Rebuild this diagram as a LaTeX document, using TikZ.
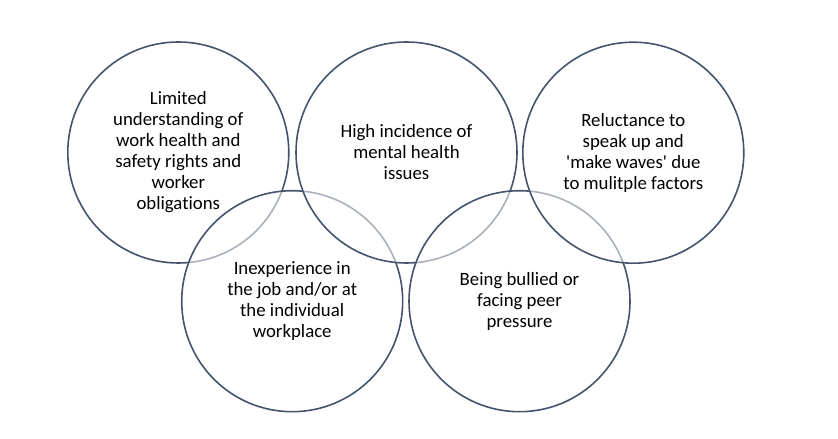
\documentclass[tikz,border=0pt]{standalone}
\usepackage{fontspec}
\setmainfont{Carlito}[Ligatures={TeXOff,NoCommon}]
\definecolor{ring}{HTML}{44546A}
\begin{document}
\begin{tikzpicture}[x=1bp,y=-1bp,
  ring/.style={circle,draw=ring,line width=1.6bp,fill=white,fill opacity=0.55,draw opacity=1,minimum size=221bp,inner sep=0pt},
  lbl/.style={align=center,font=\fontsize{18.8bp}{21bp}\selectfont,text=black}]
\useasboundingbox (0,0) rectangle (838,439);
\node[ring] (c1) at (178.3,152.5) {};
\node[ring] (c3) at (292.2,301.2) {};
\node[ring] (c2) at (406.5,152.5) {};
\node[ring] (c5) at (519.5,301.2) {};
\node[ring] (c4) at (633.3,152.7) {};
\node[lbl] (t1) at (c1) {Limited\\understanding of\\work health and\\safety rights and\\worker\\obligations};
\node[lbl] (t2) at (c2) {High incidence of\\mental health\\issues};
\node[lbl] (t3) at (c3) {Inexperience in\\the job and/or at\\the individual\\workplace};
\node[lbl] (t4) at (c4) {Reluctance to\\speak up and\\'make waves' due\\to mulitple factors};
\node[lbl] (t5) at (c5) {Being bullied or\\facing peer\\pressure};
\end{tikzpicture}
\end{document}
